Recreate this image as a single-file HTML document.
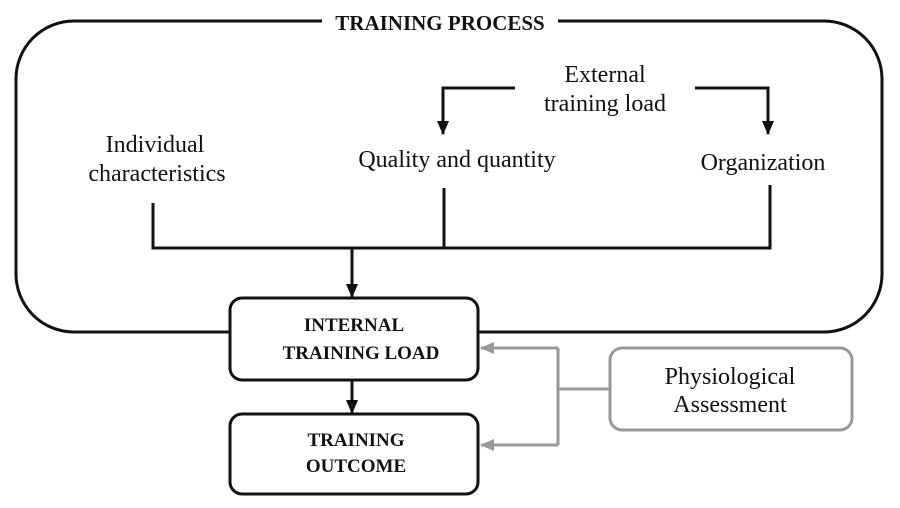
<!DOCTYPE html>
<html><head><meta charset="utf-8"><style>
html,body{margin:0;padding:0;background:#fff;}
svg{display:block;}
text{font-family:"Liberation Serif",serif;fill:#111;}
</style></head><body>
<svg width="900" height="508" viewBox="0 0 900 508" xmlns="http://www.w3.org/2000/svg">
<defs>
<marker id="ab" markerWidth="14" markerHeight="14" refX="13" refY="7" orient="auto" markerUnits="userSpaceOnUse"><path d="M0,1 L14,7 L0,13 z" fill="#111"/></marker>
<marker id="ag" markerWidth="14" markerHeight="14" refX="13" refY="7" orient="auto" markerUnits="userSpaceOnUse"><path d="M0,1 L14,7 L0,13 z" fill="#999"/></marker>
</defs>
<rect x="16" y="21" width="866" height="311" rx="58" fill="none" stroke="#111" stroke-width="3"/>
<rect x="322" y="8" width="236" height="26" fill="#fff"/>
<text x="440" y="30" font-size="21" font-weight="bold" text-anchor="middle">TRAINING PROCESS</text>

<text x="605" y="82" font-size="24" text-anchor="middle">External</text>
<text x="605" y="111" font-size="24" text-anchor="middle">training load</text>
<polyline points="515,88 443,88 443,134" fill="none" stroke="#111" stroke-width="3" marker-end="url(#ab)"/>
<polyline points="695,88 768,88 768,134" fill="none" stroke="#111" stroke-width="3" marker-end="url(#ab)"/>

<text x="155" y="152" font-size="24" text-anchor="middle">Individual</text>
<text x="157" y="181" font-size="24" text-anchor="middle">characteristics</text>
<text x="457" y="167" font-size="24" text-anchor="middle">Quality and quantity</text>
<text x="763" y="170" font-size="24" text-anchor="middle">Organization</text>

<polyline points="153,203 153,248 770,248 770,185" fill="none" stroke="#111" stroke-width="3"/>
<line x1="444" y1="188" x2="444" y2="248" stroke="#111" stroke-width="3"/>
<line x1="352" y1="248" x2="352" y2="297" stroke="#111" stroke-width="3" marker-end="url(#ab)"/>

<rect x="230" y="298" width="248" height="82" rx="12" fill="#fff" stroke="#111" stroke-width="3"/>
<text x="354" y="331" font-size="19" font-weight="bold" text-anchor="middle">INTERNAL</text>
<text x="361" y="359" font-size="19" font-weight="bold" text-anchor="middle">TRAINING LOAD</text>
<line x1="352" y1="380" x2="352" y2="413" stroke="#111" stroke-width="3" marker-end="url(#ab)"/>
<rect x="230" y="414" width="248" height="80" rx="12" fill="#fff" stroke="#111" stroke-width="3"/>
<text x="356" y="446" font-size="19" font-weight="bold" text-anchor="middle">TRAINING</text>
<text x="356" y="472" font-size="19" font-weight="bold" text-anchor="middle">OUTCOME</text>

<rect x="610" y="348" width="242" height="82" rx="12" fill="#fff" stroke="#999" stroke-width="3"/>
<text x="730" y="384" font-size="24" text-anchor="middle">Physiological</text>
<text x="730" y="412" font-size="24" text-anchor="middle">Assessment</text>
<line x1="610" y1="389" x2="558" y2="389" stroke="#999" stroke-width="3"/>
<line x1="558" y1="348" x2="558" y2="445" stroke="#999" stroke-width="3"/>
<line x1="558" y1="348" x2="481" y2="348" stroke="#999" stroke-width="3" marker-end="url(#ag)"/>
<line x1="558" y1="445" x2="481" y2="445" stroke="#999" stroke-width="3" marker-end="url(#ag)"/>
</svg>
</body></html>
